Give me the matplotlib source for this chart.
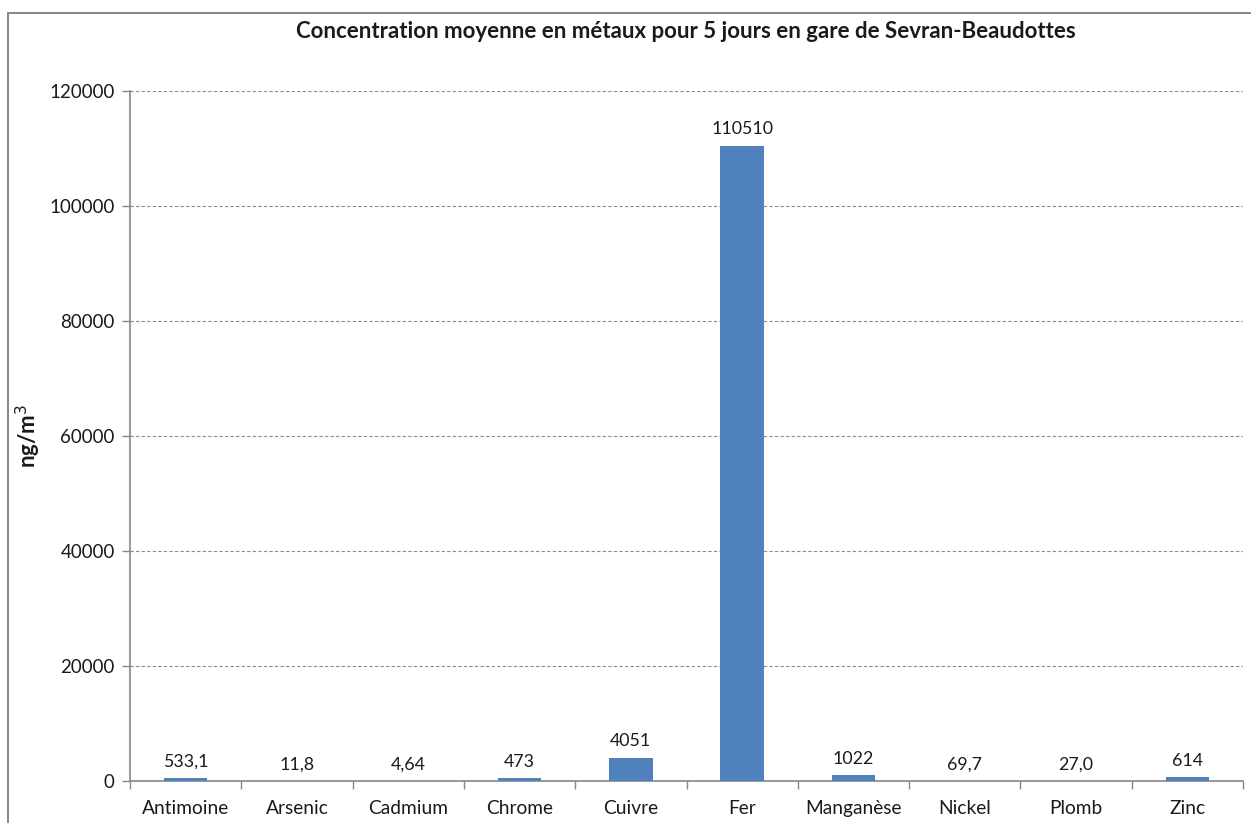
import numpy as np
import matplotlib.pyplot as plt
from matplotlib.patches import Rectangle

metaux = ["Antimoine", "Arsenic", "Cadmium", "Chrome", "Cuivre", "Fer",
          "Manganèse", "Nickel", "Plomb", "Zinc"]
concentrations = [533.1, 11.8, 4.64, 473, 4051, 110510, 1022, 69.7, 27.0, 614]
etiquettes = ["533,1", "11,8", "4,64", "473", "4051", "110510", "1022", "69,7", "27,0", "614"]
graduations = [0, 20000, 40000, 60000, 80000, 100000, 120000]

plt.rcParams['font.family'] = ['Lato', 'DejaVu Sans']
texte = '#1a1a1a'
gris = '#868686'

fig = plt.figure(figsize=(12.51, 8.23), dpi=100)
ax = fig.add_axes([130 / 1251, 42 / 823, 1113 / 1251, 690 / 823])

# cadre gris autour du graphique
fig.patches.append(Rectangle((8 / 1251, -0.05), 1.1, 0.05 + 810 / 823,
                             transform=fig.transFigure, fill=False,
                             edgecolor=gris, linewidth=1.4))

x = np.arange(len(metaux))
barres = ax.bar(x, concentrations, width=0.39, color='#4F81BD', zorder=3)

for b, lab in zip(barres, etiquettes):
    ax.annotate(lab, (b.get_x() + b.get_width() / 2, b.get_height()),
                xytext=(0, 6), textcoords='offset points',
                ha='center', va='bottom', fontsize=12.8, color=texte)

ax.set_xlim(-0.5, len(metaux) - 0.5)
ax.set_ylim(0, 120000)
ax.set_yticks(graduations)
ax.set_yticklabels([str(g) for g in graduations], fontsize=13.5, color=texte)
ax.yaxis.grid(True, linestyle=(0, (3, 2)), color='#8c8c8c', linewidth=0.8, zorder=0)

ax.set_xticks(x)
ax.set_xticklabels(metaux, fontsize=13.8, color=texte)
ax.set_xticks(np.arange(len(metaux) + 1) - 0.5, minor=True)
ax.tick_params(axis='x', which='major', length=0, pad=14)
ax.tick_params(axis='x', which='minor', length=6, color=gris, width=1)
ax.tick_params(axis='y', length=6, color=gris, width=1, pad=5)

for s in ['top', 'right']:
    ax.spines[s].set_visible(False)
for s in ['left', 'bottom']:
    ax.spines[s].set_color(gris)
    ax.spines[s].set_linewidth(1.2)

ax.set_ylabel("ng/m$^3$", fontsize=16, fontweight='bold', color=texte)
ax.yaxis.set_label_coords(-87 / 1113, 0.5)

fig.text(686 / 1251, 1 - 31 / 823,
         "Concentration moyenne en métaux pour 5 jours en gare de Sevran-Beaudottes",
         ha='center', va='center', fontsize=16, fontweight='bold', color=texte)

fig.savefig("out.png", dpi=100, facecolor='white')
